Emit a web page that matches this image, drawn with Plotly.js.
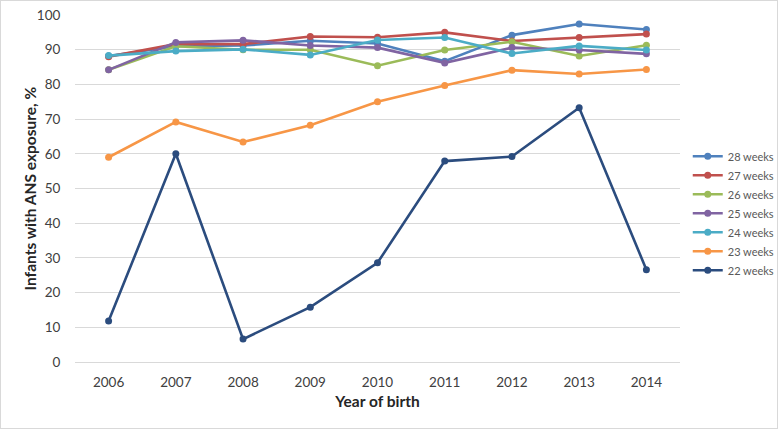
<!DOCTYPE html>
<html>
<head>
<meta charset="utf-8">
<script src="https://cdn.plot.ly/plotly-3.0.1.min.js"></script>
<style>
html,body{margin:0;padding:0;background:#fff;}
#frame{position:absolute;left:0;top:0;width:776px;height:427px;border:1px solid #d9d9d9;}
#chart{position:absolute;left:0;top:0;width:778px;height:429px;}
</style>
</head>
<body>
<div id="frame"></div>
<div id="chart"></div>
<script>
const years = ["2006","2007","2008","2009","2010","2011","2012","2013","2014"];
const w28 = [88.2, 91.0, 91.2, 92.6, 91.8, 86.7, 94.2, 97.4, 95.8];
const w27 = [88.0, 91.6, 91.6, 93.8, 93.6, 95.0, 92.5, 93.5, 94.5];
const w26 = [84.2, 91.0, 90.0, 90.0, 85.4, 89.9, 92.3, 88.2, 91.3];
const w25 = [84.2, 92.1, 92.7, 91.2, 90.6, 86.2, 90.6, 89.9, 88.8];
const w24 = [88.3, 89.6, 90.1, 88.5, 92.8, 93.5, 88.9, 91.1, 89.9];
const w23 = [59.0, 69.2, 63.4, 68.2, 75.0, 79.7, 84.1, 83.0, 84.3];
const w22 = [11.8, 60.0, 6.6, 15.8, 28.6, 57.9, 59.2, 73.3, 26.6];
const seriesNames = ["28 weeks","27 weeks","26 weeks","25 weeks","24 weeks","23 weeks","22 weeks"];
const seriesValues = [w28, w27, w26, w25, w24, w23, w22];
const colors = ["#4F81BD","#C0504D","#9BBB59","#8064A2","#4BACC6","#F79646","#2B4C7E"];
const yTitle = "Infants with ANS exposure, %";
const xTitle = "Year of birth";

const traces = seriesNames.map((n, i) => ({
  x: years, y: seriesValues[i], name: n, type: "scatter", mode: "lines+markers",
  line: {color: colors[i], width: 2.6},
  marker: {color: colors[i], size: 7}
}));

const font = "Lato, 'Open Sans', 'Liberation Sans', sans-serif";
const layout = {
  width: 778, height: 429,
  margin: {l: 75, r: 98, t: 15, b: 67},
  paper_bgcolor: "rgba(0,0,0,0)", plot_bgcolor: "#fff",
  font: {family: font, size: 13, color: "#404040"},
  showlegend: true,
  legend: {xref: "container", yref: "container", x: 0.884, xanchor: "left", y: 0.503, yanchor: "middle",
           itemwidth: 30,
           font: {family: font, size: 11, color: "#595959"}, bgcolor: "rgba(0,0,0,0)"},
  xaxis: {type: "category", range: [-0.5, 8.5], showgrid: false, zeroline: false,
          showline: true, linecolor: "#d9d9d9", linewidth: 1,
          ticks: "outside", ticklen: 8, tickcolor: "rgba(0,0,0,0)",
          tickfont: {size: 13.5, color: "#404040"},
          title: {text: "<b>" + xTitle + "</b>", font: {size: 15.5, color: "#262626"}, standoff: 6}},
  yaxis: {range: [0, 100], dtick: 10, showgrid: true, gridcolor: "#d9d9d9", gridwidth: 1,
          zeroline: false, showline: false,
          ticks: "outside", ticklen: 11, tickcolor: "rgba(0,0,0,0)",
          tickfont: {size: 13.5, color: "#404040"}},
  annotations: [{text: "<b>" + yTitle + "</b>", xref: "paper", yref: "paper",
                 x: -0.0744, y: 0.5, xanchor: "center", yanchor: "middle", textangle: -90,
                 showarrow: false, font: {family: font, size: 15.5, color: "#262626"}}]
};
Plotly.newPlot("chart", traces, layout, {displayModeBar: false, staticPlot: true});
</script>
</body>
</html>
